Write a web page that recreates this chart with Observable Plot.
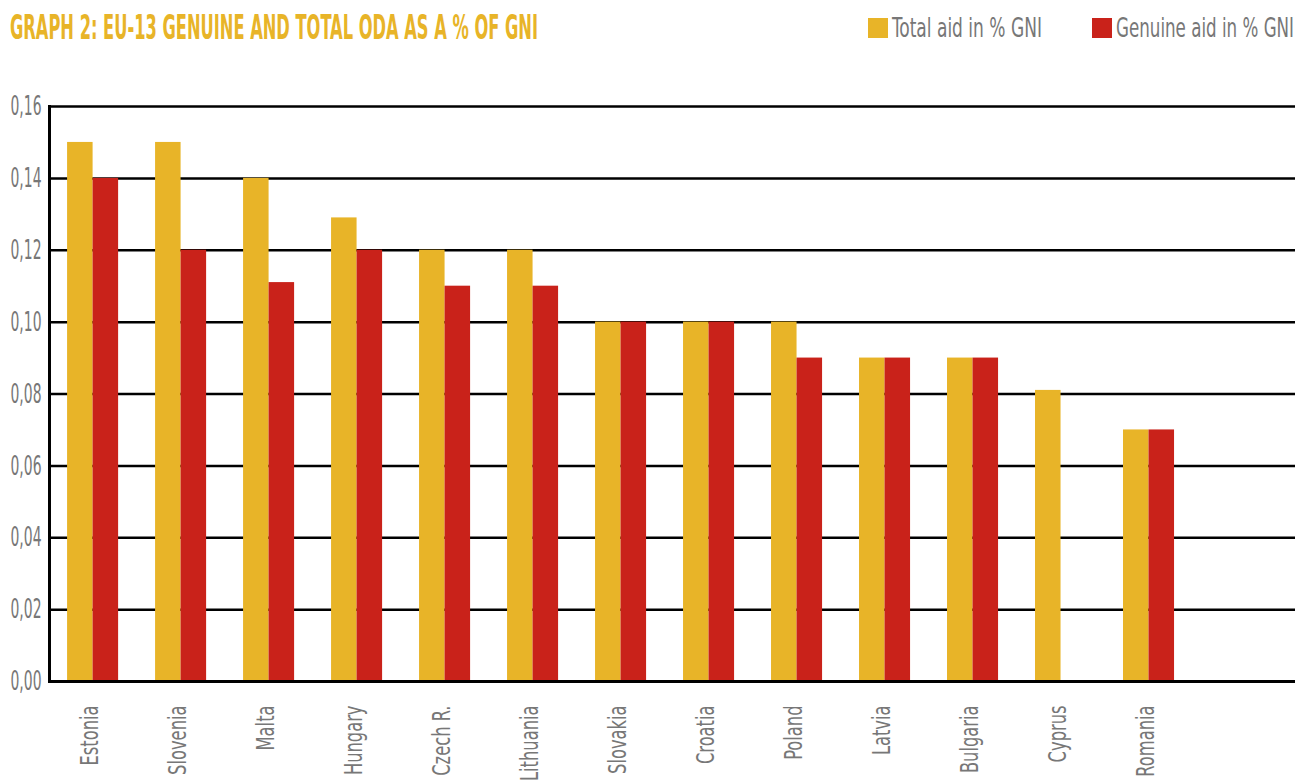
<!DOCTYPE html>
<html>
<head>
<meta charset="utf-8">
<script src="https://cdn.jsdelivr.net/npm/d3@7"></script>
<script src="https://cdn.jsdelivr.net/npm/@observablehq/plot@0.6"></script>
<style>
  html, body { margin: 0; padding: 0; background: #fff; }
  body { width: 1298px; height: 781px; overflow: hidden; font-family: "DejaVu Sans Condensed", "DejaVu Sans", sans-serif; font-stretch: condensed; }
  #header { position: relative; width: 1298px; height: 60px; }
  .fit { position: absolute; white-space: nowrap; transform-origin: 0 0; line-height: 1; }
  #title { left: 10px; top: 11px; font-size: 33px; font-weight: bold; color: #E8B428; }
  .sw { position: absolute; width: 20px; height: 20px; top: 18px; }
  .lg { top: 14px; font-size: 27px; color: #777; }
  #chart svg { display: block; }
</style>
</head>
<body>
<div id="header">
  <div id="title" class="fit" data-w="528">GRAPH 2: EU-13 GENUINE AND TOTAL ODA AS A % OF GNI</div>
  <div class="sw" style="left:868px; background:#E8B428;"></div>
  <div class="fit lg" style="left:892px;" data-w="150">Total aid in % GNI</div>
  <div class="sw" style="left:1092px; background:#C9221A;"></div>
  <div class="fit lg" style="left:1116px;" data-w="178">Genuine aid in % GNI</div>
</div>
<div id="chart"></div>
<script>
const countries = ["Estonia","Slovenia","Malta","Hungary","Czech R.","Lithuania","Slovakia","Croatia","Poland","Latvia","Bulgaria","Cyprus","Romania"];
const totalAid   = [0.15, 0.15, 0.14, 0.129, 0.12, 0.12, 0.10, 0.10, 0.10, 0.09, 0.09, 0.081, 0.07];
const genuineAid = [0.14, 0.12, 0.111, 0.12, 0.11, 0.11, 0.10, 0.10, 0.09, 0.09, 0.09, null, 0.07];
const yTicks = [0, 0.02, 0.04, 0.06, 0.08, 0.10, 0.12, 0.14, 0.16];

const yellow = "#E8B428", red = "#C9221A";
const data = countries.map((c, i) => ({country: c, total: totalAid[i], genuine: genuineAid[i]}));

const width = 1298, height = 721;
const mL = 49, mR = 3, mT = 46, mB = 100;
const pIn = 0.42, pOut = 0.79;
const step = (width - mL - mR) / (countries.length - pIn + 2 * pOut);
const half = step * (1 - pIn) / 2;

const chart = Plot.plot({
  width, height,
  marginLeft: mL, marginRight: mR, marginTop: mT, marginBottom: mB,
  style: {fontFamily: '"DejaVu Sans Condensed", "DejaVu Sans", sans-serif', color: "#777", background: "#fff"},
  x: {domain: countries, paddingInner: pIn, paddingOuter: pOut, align: 0.13, round: false, label: null},
  y: {domain: [0, 0.16], label: null},
  marks: [
    Plot.ruleY(yTicks, {stroke: "#000", strokeWidth: 2.5}),
    Plot.barY(data, {x: "country", y: "total", fill: yellow, insetRight: half}),
    Plot.barY(data, {x: "country", y: "genuine", fill: red, insetLeft: half}),
    Plot.ruleY([0], {stroke: "#000", strokeWidth: 3}),
    Plot.frame({anchor: "left", stroke: "#000", strokeWidth: 3}),
    Plot.axisY(yTicks, {tickSize: 0, tickPadding: 8, fontSize: 27, tickFormat: d => d.toFixed(2).replace(".", ","), label: null}),
    Plot.axisX({tickSize: 0, tickRotate: -90, tickPadding: 24, fontSize: 24, dx: -3, label: null})
  ]
});
document.getElementById("chart").appendChild(chart);

// condense axis labels (the original uses a very narrow typeface)
function condense(selector, refText, refLen) {
  const texts = Array.from(chart.querySelectorAll(selector));
  const ref = texts.find(t => t.textContent === refText) || texts[0];
  if (!ref) return;
  const k = refLen / ref.getComputedTextLength();
  texts.forEach(t => {
    const L = t.getComputedTextLength();
    t.setAttribute("textLength", (L * k).toFixed(2));
    t.setAttribute("lengthAdjust", "spacingAndGlyphs");
  });
}
condense('g[aria-label="y-axis tick label"] text', "0,16", 31);
condense('g[aria-label="x-axis tick label"] text', "Estonia", 60);

document.querySelectorAll(".fit").forEach(el => {
  const target = +el.dataset.w;
  const w = el.getBoundingClientRect().width;
  el.style.transform = `scaleX(${target / w})`;
});
</script>
</body>
</html>
